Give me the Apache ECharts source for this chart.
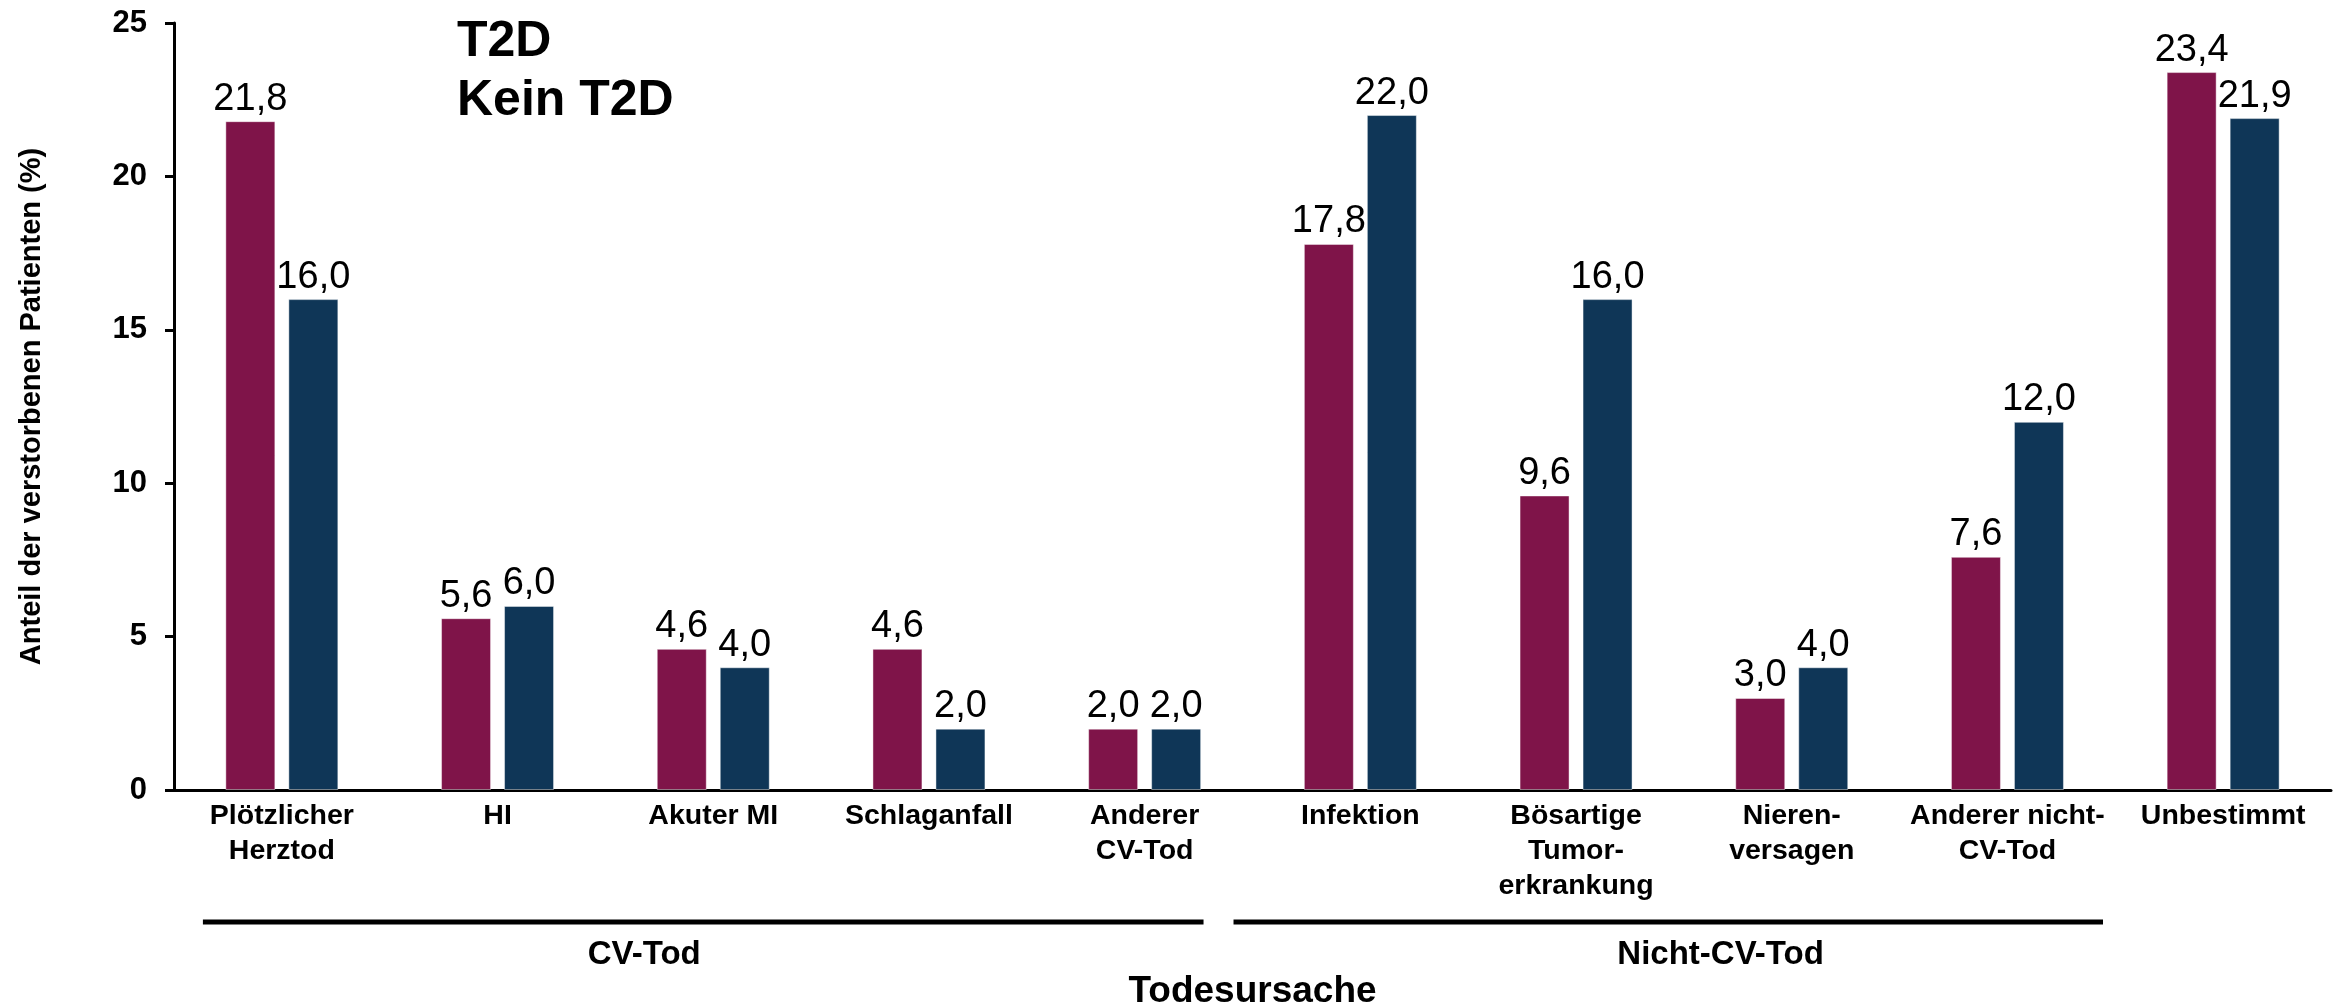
<!DOCTYPE html>
<html>
<head>
<meta charset="utf-8">
<script src="https://cdn.jsdelivr.net/npm/echarts@6/dist/echarts.min.js"></script>
<style>
  html, body { margin: 0; padding: 0; background: #ffffff; }
  #chart { width: 2343px; height: 1005px; }
</style>
</head>
<body>
<div id="chart"></div>
<script>
// Causes of death, share of deceased patients (%)
const categories = [
  'Plötzlicher\nHerztod',
  'HI',
  'Akuter MI',
  'Schlaganfall',
  'Anderer\nCV-Tod',
  'Infektion',
  'Bösartige\nTumor-\nerkrankung',
  'Nieren-\nversagen',
  'Anderer nicht-\nCV-Tod',
  'Unbestimmt'
];
const seriesNames = ['T2D', 'Kein T2D'];
const valuesT2D = [21.8, 5.6, 4.6, 4.6, 2.0, 17.8, 9.6, 3.0, 7.6, 23.4];
const valuesKeinT2D = [16.0, 6.0, 4.0, 2.0, 2.0, 22.0, 16.0, 4.0, 12.0, 21.9];
const yMin = 0;
const yMax = 25;
const yStep = 5;
// category groups shown beneath the axis labels (first / last category index)
const groupNames = ['CV-Tod', 'Nicht-CV-Tod'];
const groupFirst = [0, 5];
const groupLast = [4, 8];

const FONT = "'Liberation Sans', Arial, Helvetica, sans-serif";
const colors = ['#7f1449', '#0f3657'];

const chart = echarts.init(document.getElementById('chart'), null, { renderer: 'canvas' });

const fmt = (v) => v.toFixed(1).replace('.', ',');

const barSeries = [valuesT2D, valuesKeinT2D].map((vals, i) => ({
  name: seriesNames[i],
  type: 'bar',
  data: vals,
  barWidth: 50,
  barGap: '26%',
  itemStyle: {
    color: colors[i],
    borderColor: 'rgba(255,255,255,0.45)',
    borderWidth: 1
  },
  label: {
    show: true,
    position: 'top',
    distance: 3,
    formatter: (p) => fmt(p.value),
    fontFamily: FONT,
    fontSize: 38,
    color: '#000'
  }
}));

chart.setOption({
  animation: false,
  backgroundColor: '#ffffff',
  textStyle: { fontFamily: FONT, color: '#000' },
  grid: { left: 174, right: 12, top: 23, bottom: 215, containLabel: false, outerBoundsMode: 'none' },
  legend: {
    data: seriesNames,
    orient: 'vertical',
    left: 452,
    top: 17,
    padding: 0,
    icon: 'none',
    itemWidth: 0,
    itemHeight: 50,
    itemGap: 9,
    selectedMode: false,
    textStyle: { fontFamily: FONT, fontSize: 50, fontWeight: 'bold', color: '#000' }
  },
  xAxis: {
    type: 'category',
    data: categories,
    name: 'Todesursache',
    nameLocation: 'middle',
    nameGap: 183,
    nameTextStyle: { fontFamily: FONT, fontSize: 37, fontWeight: 'bold', color: '#000' },
    axisLine: { show: true, lineStyle: { color: '#000', width: 3 } },
    axisTick: { show: false },
    axisLabel: {
      interval: 0,
      margin: 9,
      fontFamily: FONT,
      fontSize: 28.5,
      fontWeight: 'bold',
      lineHeight: 35,
      color: '#000'
    },
    splitLine: { show: false }
  },
  yAxis: {
    type: 'value',
    min: yMin,
    max: yMax,
    interval: yStep,
    name: 'Anteil der verstorbenen Patienten (%)',
    nameLocation: 'middle',
    nameGap: 128,
    nameTextStyle: { fontFamily: FONT, fontSize: 29, fontWeight: 'bold', color: '#000' },
    axisLine: { show: true, lineStyle: { color: '#000', width: 3 } },
    axisTick: { show: true, inside: false, length: 9, lineStyle: { color: '#000', width: 3 } },
    axisLabel: { margin: 27, fontFamily: FONT, fontSize: 31, fontWeight: 'bold', color: '#000' },
    splitLine: { show: false }
  },
  series: barSeries
});

// Group brackets under the category labels, placed in category units
function drawGroups() {
  const c0 = chart.convertToPixel({ xAxisIndex: 0 }, 0);
  const c1 = chart.convertToPixel({ xAxisIndex: 0 }, 1);
  const step = c1 - c0;
  const at = (idx) => c0 + idx * step;
  // line extents and label centres relative to the grouped categories
  const lineStart = [-0.366, -0.588];
  const lineEnd = [0.273, 0.443];
  const labelAt = [1.68, 6.67];
  const lineY = 922;
  const elements = [];
  groupNames.forEach((name, g) => {
    elements.push({
      type: 'line',
      shape: { x1: at(groupFirst[g] + lineStart[g]), y1: lineY, x2: at(groupLast[g] + lineEnd[g]), y2: lineY },
      style: { stroke: '#000', lineWidth: 5 },
      silent: true
    });
    elements.push({
      type: 'text',
      x: at(labelAt[g]),
      y: 955,
      style: {
        text: name,
        font: 'bold 33px ' + FONT,
        fill: '#000',
        align: 'center',
        verticalAlign: 'middle'
      },
      silent: true
    });
  });
  chart.setOption({ graphic: elements });
}
drawGroups();
</script>
</body>
</html>
